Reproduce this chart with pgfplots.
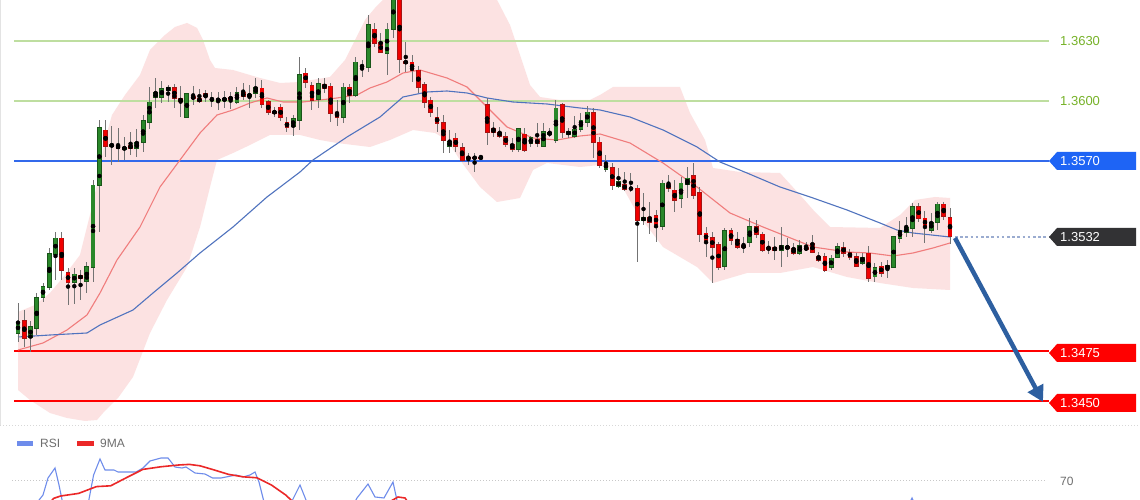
\documentclass[border=0pt]{standalone}
\usepackage{fontspec}
\setmainfont{Liberation Sans}
\usepackage{pgfplots}
\pgfplotsset{compat=1.18}
\usepackage{pgfplotstable}
\usetikzlibrary{arrows.meta}

\definecolor{upg}{RGB}{42,135,42}
\definecolor{upgb}{RGB}{25,85,25}
\definecolor{dnr}{RGB}{240,0,0}
\definecolor{dnrb}{RGB}{165,20,20}
\definecolor{wick}{RGB}{115,115,115}
\definecolor{bandc}{RGB}{252,226,226}
\definecolor{maA}{RGB}{240,125,125}
\definecolor{maB}{RGB}{80,115,190}
\definecolor{lgreen}{RGB}{190,222,160}
\definecolor{tgreen}{RGB}{118,178,40}
\definecolor{sblue}{RGB}{50,105,235}
\definecolor{bblue}{RGB}{30,100,245}
\definecolor{rred}{RGB}{255,0,0}
\definecolor{darkbox}{RGB}{50,50,52}
\definecolor{arrowblue}{RGB}{45,95,160}
\definecolor{rsiblue}{RGB}{110,140,235}
\definecolor{rsired}{RGB}{235,40,40}
\definecolor{faint}{RGB}{200,200,200}
\definecolor{dotblue}{RGB}{155,172,208}
\definecolor{legtext}{RGB}{110,110,110}

\newcommand{\lbl}{\fontsize{13pt}{13pt}\selectfont}
\newcommand{\pricetag}[3]{%
 \fill[#2] (1049pt,#1pt) -- (1057pt,#1pt+9pt) -- (1136pt,#1pt+9pt) -- (1136pt,#1pt-9pt) -- (1057pt,#1pt-9pt) -- cycle;
 \node[anchor=west, text=white, font=\lbl, inner sep=0pt] at (1060pt,#1pt) {#3};}

% all candles: index, open, high, low, close
\pgfplotstableread{
i o h l c
0 1.3484 1.3499 1.34795 1.34895
1 1.3490 1.34955 1.3477 1.34815
2 1.3482 1.3490 1.34745 1.3487
3 1.34865 1.3504 1.3483 1.35015
4 1.3502 1.3509 1.34995 1.3507
5 1.3507 1.35265 1.35055 1.35235
6 1.35235 1.35345 1.35105 1.35315
7 1.35315 1.35345 1.35105 1.35155
8 1.3514 1.35165 1.3498 1.35095
9 1.35095 1.35165 1.34985 1.35135
10 1.35125 1.35155 1.35005 1.35115
11 1.3510 1.35195 1.3504 1.3517
12 1.3517 1.35605 1.35095 1.3558
13 1.3558 1.35905 1.35345 1.35865
14 1.35855 1.35905 1.3572 1.35775
15 1.35775 1.35875 1.3568 1.35785
16 1.35775 1.35865 1.35695 1.35765
17 1.3576 1.3582 1.35705 1.3577
18 1.3578 1.35845 1.3573 1.35765
19 1.35765 1.3586 1.3572 1.3579
20 1.35795 1.3593 1.35745 1.3590
21 1.35895 1.3607 1.3586 1.35995
22 1.36015 1.36115 1.35965 1.3604
23 1.3602 1.3610 1.3599 1.3606
24 1.36055 1.3608 1.35995 1.36065
25 1.36065 1.36085 1.35965 1.36015
26 1.3601 1.36075 1.3592 1.3600
27 1.3592 1.3604 1.3592 1.36035
28 1.3602 1.36075 1.3598 1.36015
29 1.3601 1.3606 1.3599 1.3600
30 1.36035 1.36055 1.35995 1.3602
31 1.36015 1.36045 1.3597 1.36005
32 1.36005 1.36045 1.35955 1.3601
33 1.36005 1.3605 1.35965 1.36015
34 1.3602 1.36045 1.3596 1.3601
35 1.35995 1.3607 1.35985 1.3604
36 1.3604 1.3609 1.36005 1.36025
37 1.36025 1.3608 1.35965 1.36035
38 1.3604 1.36115 1.36015 1.36065
39 1.36065 1.36105 1.35965 1.35985
40 1.35995 1.36005 1.3593 1.35945
41 1.3595 1.3597 1.3592 1.3594
42 1.3597 1.35985 1.3590 1.3592
43 1.35895 1.3592 1.35845 1.3587
44 1.35875 1.3593 1.35825 1.3591
45 1.35905 1.3622 1.35855 1.3613
46 1.3614 1.36165 1.36065 1.36095
47 1.36075 1.36095 1.35955 1.36005
48 1.3601 1.36115 1.35965 1.36085
49 1.3608 1.36115 1.3604 1.36065
50 1.36075 1.3609 1.35895 1.3594
51 1.3594 1.36005 1.35875 1.3592
52 1.3592 1.3609 1.3589 1.3607
53 1.3607 1.36085 1.3599 1.3603
54 1.3603 1.3622 1.3602 1.36195
55 1.3618 1.36205 1.3612 1.3617
56 1.3617 1.3643 1.36145 1.3638
57 1.3636 1.3639 1.3627 1.3629
58 1.3629 1.3634 1.3624 1.36245
59 1.3624 1.3639 1.3613 1.3636
60 1.3636 1.3658 1.36315 1.3653
61 1.3653 1.3658 1.3614 1.3621
62 1.3620 1.36295 1.36145 1.3619
63 1.36195 1.3623 1.36095 1.36155
64 1.36155 1.36175 1.3604 1.3607
65 1.3608 1.36095 1.35965 1.35995
66 1.36005 1.3602 1.3592 1.35945
67 1.3592 1.3597 1.35845 1.3589
68 1.3589 1.3593 1.3574 1.35805
69 1.35775 1.35855 1.3574 1.35795
70 1.35815 1.3584 1.35745 1.35775
71 1.35765 1.3579 1.35695 1.35705
72 1.3572 1.3574 1.3568 1.35715
73 1.3572 1.3574 1.35645 1.35715
74 1.3572 1.35725 1.35715 1.35715
75 1.3598 1.36015 1.3578 1.35845
76 1.3586 1.35895 1.3582 1.35845
77 1.35845 1.3587 1.35815 1.35825
78 1.3582 1.35845 1.3577 1.35785
79 1.3578 1.35815 1.35745 1.3576
80 1.3576 1.35865 1.35745 1.3586
81 1.35835 1.35865 1.35745 1.35755
82 1.3579 1.35825 1.3577 1.35815
83 1.35805 1.3589 1.3577 1.3579
84 1.35775 1.3589 1.3577 1.35845
85 1.35835 1.35865 1.3582 1.3584
86 1.35805 1.36005 1.3579 1.35965
87 1.3598 1.3599 1.35815 1.35845
88 1.35835 1.35865 1.35815 1.35845
89 1.35825 1.35925 1.35815 1.3586
90 1.3586 1.3594 1.35845 1.35905
91 1.35895 1.35975 1.3587 1.35945
92 1.3594 1.35965 1.35715 1.35795
93 1.35795 1.3582 1.35665 1.3568
94 1.3566 1.3573 1.35645 1.3569
95 1.35665 1.3569 1.35555 1.3558
96 1.35575 1.35665 1.35565 1.35595
97 1.3558 1.35645 1.3555 1.3556
98 1.35565 1.3564 1.35545 1.3556
99 1.35565 1.3558 1.35195 1.35405
100 1.35405 1.3554 1.3538 1.35415
101 1.35415 1.35495 1.35335 1.35395
102 1.35425 1.35455 1.35295 1.35385
103 1.35375 1.35605 1.35355 1.3559
104 1.35585 1.3563 1.35545 1.35565
105 1.35555 1.35605 1.35445 1.35505
106 1.35515 1.3562 1.35465 1.3559
107 1.35585 1.3567 1.35515 1.35615
108 1.35625 1.3569 1.3551 1.3553
109 1.3554 1.3557 1.35295 1.35335
110 1.3534 1.3537 1.3522 1.35305
111 1.35315 1.35345 1.3509 1.3527
112 1.3528 1.35295 1.35155 1.3517
113 1.35175 1.35365 1.35155 1.3535
114 1.3535 1.35365 1.3528 1.35305
115 1.35305 1.35345 1.3526 1.3527
116 1.35275 1.3532 1.3524 1.3527
117 1.35295 1.35415 1.3527 1.3537
118 1.3537 1.35405 1.35315 1.35335
119 1.35335 1.35345 1.35245 1.35255
120 1.35265 1.3530 1.35235 1.3526
121 1.35265 1.3532 1.35205 1.35255
122 1.35255 1.3537 1.3517 1.35275
123 1.35275 1.35315 1.3522 1.35265
124 1.3526 1.3529 1.3523 1.3524
125 1.3524 1.35305 1.3523 1.35275
126 1.35265 1.35295 1.3525 1.3526
127 1.35285 1.3533 1.3524 1.35245
128 1.35225 1.35245 1.35195 1.35205
129 1.3522 1.3524 1.35145 1.35155
130 1.3517 1.3523 1.35155 1.35215
131 1.3522 1.3529 1.35215 1.3527
132 1.3527 1.35295 1.3522 1.3524
133 1.3524 1.3526 1.35205 1.3522
134 1.3522 1.3524 1.3517 1.35175
135 1.3519 1.3524 1.3518 1.3522
136 1.3524 1.35275 1.35095 1.35115
137 1.3512 1.3519 1.35095 1.35165
138 1.35175 1.35195 1.3512 1.3514
139 1.35165 1.35205 1.35115 1.35175
140 1.3517 1.35325 1.35165 1.3532
141 1.35315 1.3540 1.3529 1.3535
142 1.35345 1.3542 1.3532 1.35365
143 1.35365 1.3549 1.3532 1.3547
144 1.3547 1.3549 1.35395 1.35415
145 1.35415 1.3545 1.3529 1.35375
146 1.35355 1.3544 1.3534 1.35395
147 1.35395 1.35495 1.35355 1.35485
148 1.35485 1.35495 1.35405 1.35425
149 1.35415 1.35465 1.35285 1.35325
}\candles

% rising candles (index, open, close)
\pgfplotstableread{
i o c
0 1.3484 1.34895
2 1.3482 1.3487
3 1.34865 1.35015
4 1.3502 1.3507
5 1.3507 1.35235
6 1.35235 1.35315
9 1.35095 1.35135
11 1.3510 1.3517
12 1.3517 1.3558
13 1.3558 1.35865
15 1.35775 1.35785
17 1.3576 1.3577
19 1.35765 1.3579
20 1.35795 1.3590
21 1.35895 1.35995
22 1.36015 1.3604
23 1.3602 1.3606
24 1.36055 1.36065
27 1.3592 1.36035
32 1.36005 1.3601
33 1.36005 1.36015
35 1.35995 1.3604
37 1.36025 1.36035
38 1.3604 1.36065
44 1.35875 1.3591
45 1.35905 1.3613
48 1.3601 1.36085
52 1.3592 1.3607
54 1.3603 1.36195
56 1.3617 1.3638
59 1.3624 1.3636
60 1.3636 1.3653
69 1.35775 1.35795
80 1.3576 1.3586
82 1.3579 1.35815
84 1.35775 1.35845
85 1.35835 1.3584
86 1.35805 1.35965
88 1.35835 1.35845
89 1.35825 1.3586
90 1.3586 1.35905
91 1.35895 1.35945
94 1.3566 1.3569
96 1.35575 1.35595
100 1.35405 1.35415
103 1.35375 1.3559
106 1.35515 1.3559
107 1.35585 1.35615
113 1.35175 1.3535
117 1.35295 1.3537
122 1.35255 1.35275
125 1.3524 1.35275
130 1.3517 1.35215
131 1.3522 1.3527
135 1.3519 1.3522
137 1.3512 1.35165
139 1.35165 1.35175
140 1.3517 1.3532
141 1.35315 1.3535
142 1.35345 1.35365
143 1.35365 1.3547
146 1.35355 1.35395
147 1.35395 1.35485
}\upc

% falling candles (index, open, close)
\pgfplotstableread{
i o c
1 1.3490 1.34815
7 1.35315 1.35155
8 1.3514 1.35095
10 1.35125 1.35115
14 1.35855 1.35775
16 1.35775 1.35765
18 1.3578 1.35765
25 1.36065 1.36015
26 1.3601 1.3600
28 1.3602 1.36015
29 1.3601 1.3600
30 1.36035 1.3602
31 1.36015 1.36005
34 1.3602 1.3601
36 1.3604 1.36025
39 1.36065 1.35985
40 1.35995 1.35945
41 1.3595 1.3594
42 1.3597 1.3592
43 1.35895 1.3587
46 1.3614 1.36095
47 1.36075 1.36005
49 1.3608 1.36065
50 1.36075 1.3594
51 1.3594 1.3592
53 1.3607 1.3603
55 1.3618 1.3617
57 1.3636 1.3629
58 1.3629 1.36245
61 1.3653 1.3621
62 1.3620 1.3619
63 1.36195 1.36155
64 1.36155 1.3607
65 1.3608 1.35995
66 1.36005 1.35945
67 1.3592 1.3589
68 1.3589 1.35805
70 1.35815 1.35775
71 1.35765 1.35705
72 1.3572 1.35715
73 1.3572 1.35715
74 1.3572 1.35715
75 1.3598 1.35845
76 1.3586 1.35845
77 1.35845 1.35825
78 1.3582 1.35785
79 1.3578 1.3576
81 1.35835 1.35755
83 1.35805 1.3579
87 1.3598 1.35845
92 1.3594 1.35795
93 1.35795 1.3568
95 1.35665 1.3558
97 1.3558 1.3556
98 1.35565 1.3556
99 1.35565 1.35405
101 1.35415 1.35395
102 1.35425 1.35385
104 1.35585 1.35565
105 1.35555 1.35505
108 1.35625 1.3553
109 1.3554 1.35335
110 1.3534 1.35305
111 1.35315 1.3527
112 1.3528 1.3517
114 1.3535 1.35305
115 1.35305 1.3527
116 1.35275 1.3527
118 1.3537 1.35335
119 1.35335 1.35255
120 1.35265 1.3526
121 1.35265 1.35255
123 1.35275 1.35265
124 1.3526 1.3524
126 1.35265 1.3526
127 1.35285 1.35245
128 1.35225 1.35205
129 1.3522 1.35155
132 1.3527 1.3524
133 1.3524 1.3522
134 1.3522 1.35175
136 1.3524 1.35115
138 1.35175 1.3514
144 1.3547 1.35415
145 1.35415 1.35375
148 1.35485 1.35425
149 1.35415 1.35325
}\dnc

% Bollinger band outline: upper edge left to right, then lower edge right to left
\pgfplotstableread{
x y
18 1.34945
35 1.3498
50 1.3504
65 1.3513
80 1.3523
90 1.3543
97 1.3558
105 1.35805
112 1.3593
125 1.3603
140 1.3613
150 1.36255
165 1.3633
175 1.3637
187 1.3639
197 1.36365
203 1.36305
210 1.36205
215 1.36165
233 1.36155
260 1.36115
280 1.3609
300 1.36095
330 1.3612
345 1.36205
355 1.36305
365 1.36405
375 1.36465
385 1.36515
420 1.36545
470 1.36545
495 1.36525
510 1.3638
520 1.3623
530 1.3608
540 1.3602
560 1.36005
590 1.36005
600 1.3603
613 1.3607
680 1.3607
690 1.3594
705 1.35805
713 1.35665
740 1.35645
780 1.3564
800 1.3553
815 1.35445
830 1.3537
880 1.35365
900 1.3543
915 1.35505
935 1.3552
950 1.35515
950 1.35055
913 1.35065
880 1.3509
847 1.3512
813 1.3517
780 1.3514
747 1.3514
713 1.3509
697 1.3517
663 1.3527
637 1.3544
613 1.35655
600 1.3568
580 1.3567
547 1.3569
533 1.35655
520 1.35515
497 1.35495
480 1.3557
460 1.35705
447 1.35805
435 1.3584
413 1.35855
390 1.35805
370 1.3577
337 1.3579
320 1.35805
300 1.3583
270 1.3583
250 1.3578
233 1.3574
217 1.35705
210 1.3557
200 1.3537
187 1.3517
167 1.35005
150 1.3484
133 1.3462
118 1.34515
103 1.3444
97 1.34405
85 1.3440
67 1.34415
50 1.3444
30 1.34505
18 1.34555
}\band

\pgfplotstableread{
x y
18 1.34755
43 1.3479
67 1.34855
87 1.3493
100 1.3504
117 1.35205
140 1.3537
160 1.3557
180 1.35705
200 1.3584
217 1.3593
233 1.35955
250 1.3599
267 1.36015
283 1.35995
303 1.35995
337 1.36015
357 1.3603
370 1.36065
387 1.36095
403 1.3614
420 1.36155
447 1.36115
467 1.3607
487 1.3597
507 1.3587
533 1.35815
557 1.35805
580 1.35825
600 1.35835
630 1.3579
663 1.3569
697 1.3557
730 1.3544
763 1.3537
813 1.3527
847 1.35245
870 1.3524
893 1.35225
913 1.3524
933 1.35265
950 1.3529
}\maone

\pgfplotstableread{
x y
18 1.3482
50 1.3483
87 1.3484
100 1.3488
133 1.34955
153 1.3504
177 1.3514
200 1.3524
233 1.3537
267 1.3552
300 1.35645
313 1.35705
347 1.3582
380 1.3592
403 1.3602
427 1.36045
447 1.3605
467 1.3604
487 1.36015
513 1.35995
547 1.35985
580 1.35965
600 1.35955
630 1.3592
663 1.35855
697 1.3577
720 1.35695
747 1.3564
780 1.3557
813 1.35515
847 1.35455
880 1.3539
897 1.35355
913 1.3534
950 1.3532
}\matwo

\pgfplotstableread{
x y
34 53
37.5 59.5
43 63
48 71.5
55 76.5
59 68
62.5 59.5
70 50.5
86 53
93.6 73
100 81
105 75.5
114 75.5
118 74.5
136 74.5
143 76.5
150 80
161 81.5
168 81.5
175 77
182 76.5
186 77
195 74
205 73.5
212.5 71.5
221 71.5
236 73
243 72
250 73
255 74.5
259 69.5
264 59.5
280 48
300 68
310 55.5
345 50.5
357 61.5
368 68.5
375 62
384 61.5
393 69.5
398 58
420 48
900 48
906 55
912 61.5
918 55
925 48
950 50
}\rsi

\pgfplotstableread{
x y
48 58
53.6 61.3
60.7 62.5
78.6 63.8
96.4 67.2
110.7 67.6
125 71.3
142.9 75.8
160.7 77.1
178.6 78
189.3 78.3
200 77.6
214.3 75.5
228.6 73.3
242.9 72.1
257 71.6
271.4 68
285.7 63
292.9 59.6
305 53
380 53
391 60
398 62
405 61.5
412 56.5
430 50
950 50
}\rsima

\begin{document}
\begin{tikzpicture}
\useasboundingbox (0pt,0pt) rectangle (1140pt,500pt);
\fill[white] (0pt,0pt) rectangle (1140pt,500pt);

\begin{axis}[at={(0pt,75pt)}, anchor=south west, scale only axis,
  width=1140pt, height=425pt, xmin=0, xmax=1140, ymin=1.3438, ymax=1.36505,
  hide axis, clip=true]
 \addplot[fill=bandc, draw=none] table[x=x,y=y] {\band};
 % levels
 \addplot[lgreen, line width=1.3pt] coordinates {(14,1.3630) (1049,1.3630)};
 \addplot[lgreen, line width=1.3pt] coordinates {(14,1.3600) (1049,1.3600)};
 \addplot[sblue, line width=1.6pt] coordinates {(14,1.3570) (1049,1.3570)};
 \addplot[rred, line width=2.6pt] coordinates {(14,1.3475) (1049,1.3475)};
 \addplot[rred, line width=2.6pt] coordinates {(14,1.3450) (1049,1.3450)};
 \addplot[dotblue, line width=2.4pt, dash pattern=on 2.6pt off 2.6pt] coordinates {(955,1.3532) (1049,1.3532)};
 % moving averages
 \addplot[maA, line width=1.1pt] table[x=x,y=y] {\maone};
 \addplot[maB, line width=1.1pt] table[x=x,y=y] {\matwo};
 % wicks
 \addplot[only marks, mark=none, error bars/.cd, y dir=both, y explicit,
   error mark=none, error bar style={line width=1pt, draw=wick}]
   table[x expr=18+6.255*\thisrow{i}, y expr=(\thisrow{h}+\thisrow{l})/2,
         y error expr=(\thisrow{h}-\thisrow{l})/2] {\candles};
 % rising bodies: outline then fill
 \addplot[only marks, mark=none, error bars/.cd, y dir=both, y explicit,
   error mark=none, error bar style={line width=4.8pt, draw=upgb}]
   table[x expr=18+6.255*\thisrow{i}, y expr=(\thisrow{o}+\thisrow{c})/2,
         y error expr=(\thisrow{c}-\thisrow{o})/2+0.00003] {\upc};
 \addplot[only marks, mark=none, error bars/.cd, y dir=both, y explicit,
   error mark=none, error bar style={line width=3.2pt, draw=upg}]
   table[x expr=18+6.255*\thisrow{i}, y expr=(\thisrow{o}+\thisrow{c})/2,
         y error expr=(\thisrow{c}-\thisrow{o})/2-0.00001] {\upc};
 % falling bodies: outline then fill
 \addplot[only marks, mark=none, error bars/.cd, y dir=both, y explicit,
   error mark=none, error bar style={line width=4.8pt, draw=dnrb}]
   table[x expr=18+6.255*\thisrow{i}, y expr=(\thisrow{o}+\thisrow{c})/2,
         y error expr=(\thisrow{o}-\thisrow{c})/2+0.00003] {\dnc};
 \addplot[only marks, mark=none, error bars/.cd, y dir=both, y explicit,
   error mark=none, error bar style={line width=3.2pt, draw=dnr}]
   table[x expr=18+6.255*\thisrow{i}, y expr=(\thisrow{o}+\thisrow{c})/2,
         y error expr=(\thisrow{o}-\thisrow{c})/2-0.00001] {\dnc};
\end{axis}

\begin{axis}[at={(0pt,0pt)}, anchor=south west, scale only axis,
  width=1140pt, height=75pt, xmin=0, xmax=1140, ymin=60.5, ymax=98,
  hide axis, clip=true]
 \addplot[faint, line width=1pt, dash pattern=on 1pt off 2pt] coordinates {(12,70) (1045,70)};
 \addplot[rsiblue, line width=1.1pt] table[x=x,y=y] {\rsi};
 \addplot[rsired, line width=1.6pt] table[x=x,y=y] {\rsima};
\end{axis}

\draw[faint!70, line width=0.8pt, dash pattern=on 1pt off 2pt] (0pt,75pt) -- (1140pt,75pt);
\draw[faint!50, line width=0.8pt] (0.5pt,75pt) -- (0.5pt,500pt);

\draw[arrowblue, line width=4.5pt, -{Triangle[length=16pt, width=17pt]}] (955pt,262pt) -- (1043pt,98pt);

\node[anchor=west, text=tgreen, font=\lbl, inner sep=0pt] at (1060pt,459pt) {1.3630};
\node[anchor=west, text=tgreen, font=\lbl, inner sep=0pt] at (1060pt,399pt) {1.3600};
\pricetag{339}{bblue}{1.3570}
\pricetag{263}{darkbox}{1.3532}
\pricetag{147}{rred}{1.3475}
\pricetag{97}{rred}{1.3450}

\fill[rsiblue] (17pt,54pt) rectangle (33pt,59pt);
\node[anchor=west, text=legtext, font=\fontsize{12pt}{12pt}\selectfont, inner sep=0pt] at (40pt,56.5pt) {RSI};
\fill[rsired] (77pt,54pt) rectangle (94pt,59pt);
\node[anchor=west, text=legtext, font=\fontsize{12pt}{12pt}\selectfont, inner sep=0pt] at (100pt,56.5pt) {9MA};
\node[anchor=west, text=legtext, font=\fontsize{12pt}{12pt}\selectfont, inner sep=0pt] at (1060pt,19pt) {70};
\end{tikzpicture}
\end{document}
